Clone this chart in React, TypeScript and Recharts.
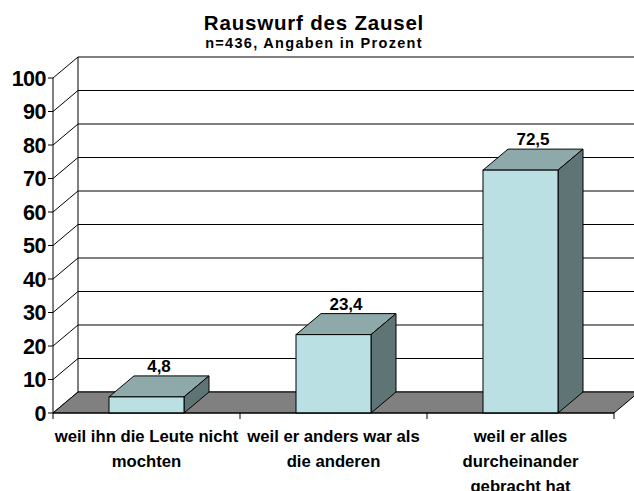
import { BarChart, Bar, XAxis, YAxis, CartesianGrid, LabelList } from 'recharts'

const categories = ['weil ihn die Leute nicht mochten', 'weil er anders war als die anderen', 'weil er alles durcheinander gebracht hat']
const tickLines = [
  ['weil ihn die Leute nicht', 'mochten'],
  ['weil er anders war als', 'die anderen'],
  ['weil er alles', 'durcheinander', 'gebracht hat'],
]
const values = [4.8, 23.4, 72.5]
const yTicks = [0, 10, 20, 30, 40, 50, 60, 70, 80, 90, 100]

const title = 'Rauswurf des Zausel'
const subtitle = 'n=436, Angaben in Prozent'

const W = 634
const H = 491
const TOP = 78
const RIGHT = 20
const Y_AXIS_W = 53
const X_AXIS_H = 78
const PLOT_BOTTOM = H - X_AXIS_H
const BAND = (W - RIGHT - Y_AXIS_W) / categories.length
// 3d depth offset
const DX = 25
const DY = -21
const FONT = '"Liberation Sans", Arial, sans-serif'

const data = categories.map((name, i) => ({ name, value: values[i], idx: i }))

function Bar3D(props: any) {
  const { x, y, width, height } = props
  if (width == null || height == null) return null
  return (
    <g stroke="#000" strokeWidth={1}>
      <polygon
        points={`${x},${y} ${x + DX},${y + DY} ${x + width + DX},${y + DY} ${x + width},${y}`}
        fill="#8EA9AA"
      />
      <polygon
        points={`${x + width},${y} ${x + width + DX},${y + DY} ${x + width + DX},${y + height + DY} ${x + width},${y + height}`}
        fill="#5E7475"
      />
      <rect x={x} y={y} width={width} height={height} fill="#BBE0E3" />
    </g>
  )
}

function GridLine(props: any) {
  const { x1, y1, x2 } = props
  const isFloor = Math.abs(y1 - PLOT_BOTTOM) < 0.5
  const isTop = Math.abs(y1 - TOP) < 0.5
  return (
    <g stroke="#000" strokeWidth={1} fill="none">
      <line x1={x1 + DX} y1={y1 + DY} x2={x2 + DX} y2={y1 + DY} />
      <line x1={x1} y1={y1} x2={x1 + DX} y2={y1 + DY} />
      {isTop && <line x1={x1 + DX} y1={y1 + DY} x2={x1 + DX} y2={PLOT_BOTTOM + DY} />}
      {isFloor && (
        <polygon
          points={`${x1},${y1} ${x2},${y1} ${x2 + DX},${y1 + DY} ${x1 + DX},${y1 + DY}`}
          fill="#808080"
        />
      )}
    </g>
  )
}

function YTick(props: any) {
  const { y, payload } = props
  return (
    <text x={46} y={y} dy="0.36em" textAnchor="end" fontFamily={FONT} fontWeight="bold" fontSize={21.5} letterSpacing={-0.5} fill="#000">
      {payload.value}
    </text>
  )
}

function XTick(props: any) {
  const { x, payload } = props
  const off = payload.offset || BAND / 2
  const lines = tickLines[payload.index] || [String(payload.value)]
  return (
    <g>
      <line x1={x - off} y1={PLOT_BOTTOM} x2={x - off} y2={PLOT_BOTTOM + 6} stroke="#000" />
      {payload.index === categories.length - 1 && (
        <line x1={x + off} y1={PLOT_BOTTOM} x2={x + off} y2={PLOT_BOTTOM + 6} stroke="#000" />
      )}
      {lines.map((l, i) => (
        <text key={i} x={x} y={PLOT_BOTTOM + 29 + i * 25} textAnchor="middle" fontFamily={FONT} fontWeight="bold" fontSize={16.7} fill="#000">
          {l}
        </text>
      ))}
    </g>
  )
}

function ValueLabel(props: any) {
  const { x, y, width, value } = props
  return (
    <text x={x + width / 2 + DX / 2} y={y + DY - 4} textAnchor="middle" fontFamily={FONT} fontWeight="bold" fontSize={17} fill="#000">
      {Number(value).toFixed(1).replace('.', ',')}
    </text>
  )
}

export default function App() {
  return (
    <div style={{ position: 'absolute', left: 0, top: 0, width: W, height: H, background: '#fff', overflow: 'hidden' }}>
      <BarChart width={W} height={H} data={data} margin={{ top: TOP, right: RIGHT, bottom: 0, left: 0 }}>
        <CartesianGrid vertical={false} horizontal={(p: any) => <GridLine {...p} />} />
        <XAxis dataKey="name" height={X_AXIS_H} axisLine={{ stroke: '#000' }} tickLine={false} tick={<XTick />} interval={0} />
        <YAxis
          width={Y_AXIS_W}
          domain={[0, 100]}
          ticks={yTicks}
          interval={0}
          axisLine={{ stroke: '#000' }}
          tickLine={{ stroke: '#000' }}
          tickSize={5}
          tick={<YTick />}
        />
        <Bar dataKey="value" barSize={75} shape={<Bar3D />} isAnimationActive={false}>
          <LabelList dataKey="value" content={<ValueLabel />} />
        </Bar>
      </BarChart>
      <svg width={W} height={60} style={{ position: 'absolute', left: 0, top: 0, pointerEvents: 'none' }}>
        <text x={314} y={30} textAnchor="middle" fontFamily={FONT} fontWeight="bold" fontSize={20.5} letterSpacing={0.8} fill="#000">
          {title}
        </text>
        <text x={314} y={47.5} textAnchor="middle" fontFamily={FONT} fontWeight="bold" fontSize={14.5} letterSpacing={1.3} fill="#000">
          {subtitle}
        </text>
      </svg>
    </div>
  )
}
